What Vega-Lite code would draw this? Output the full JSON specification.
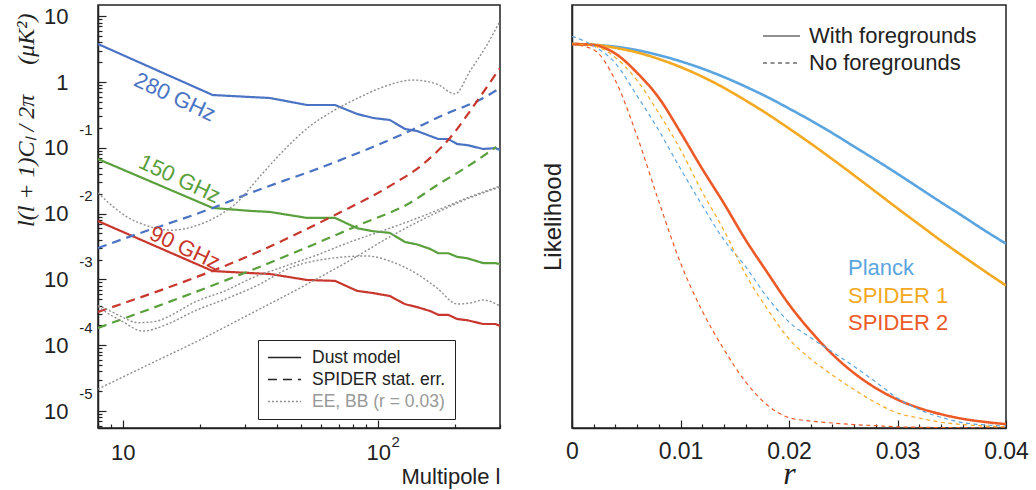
{
  "$schema": "https://vega.github.io/schema/vega-lite/v6.json",
  "padding": {"left": 13, "top": 4, "right": 0, "bottom": 0},
  "spacing": 72,
  "bounds": "flush",
  "resolve": {"scale": {"color": "independent", "strokeDash": "independent"}, "legend": {"color": "independent", "strokeDash": "independent"}},
  "config": {
    "font": "Liberation Sans",
    "view": {"stroke": "#222222", "strokeWidth": 1.5},
    "axis": {"domainColor": "#222222", "domainWidth": 1.5, "tickColor": "#222222", "tickWidth": 1.2, "labelColor": "#222222", "titleColor": "#222222", "labelFont": "Liberation Sans", "titleFont": "Liberation Sans", "grid": false, "titleFontWeight": "normal"},
    "legend": {"labelFont": "Liberation Sans", "labelColor": "#222222", "labelLimit": 400}
  },
  "hconcat": [
    {
      "width": 402,
      "height": 423,
      "resolve": {"axis": {"x": "independent", "y": "independent"}},
      "layer": [
        {
          "data": {"values": [
            {"x": 8, "y": 3.78, "c": "d280", "b": "280", "s": "Dust model"},
            {"x": 22.5, "y": 0.634, "c": "d280", "b": "280", "s": "Dust model"},
            {"x": 31.5, "y": 0.592, "c": "d280", "b": "280", "s": "Dust model"},
            {"x": 37.7, "y": 0.571, "c": "d280", "b": "280", "s": "Dust model"},
            {"x": 52.7, "y": 0.447, "c": "d280", "b": "280", "s": "Dust model"},
            {"x": 67.8, "y": 0.447, "c": "d280", "b": "280", "s": "Dust model"},
            {"x": 82.7, "y": 0.327, "c": "d280", "b": "280", "s": "Dust model"},
            {"x": 95.5, "y": 0.284, "c": "d280", "b": "280", "s": "Dust model"},
            {"x": 111, "y": 0.265, "c": "d280", "b": "280", "s": "Dust model"},
            {"x": 127.5, "y": 0.193, "c": "d280", "b": "280", "s": "Dust model"},
            {"x": 142, "y": 0.18, "c": "d280", "b": "280", "s": "Dust model"},
            {"x": 160, "y": 0.151, "c": "d280", "b": "280", "s": "Dust model"},
            {"x": 172, "y": 0.136, "c": "d280", "b": "280", "s": "Dust model"},
            {"x": 188, "y": 0.136, "c": "d280", "b": "280", "s": "Dust model"},
            {"x": 204, "y": 0.114, "c": "d280", "b": "280", "s": "Dust model"},
            {"x": 223, "y": 0.11, "c": "d280", "b": "280", "s": "Dust model"},
            {"x": 258, "y": 0.096, "c": "d280", "b": "280", "s": "Dust model"},
            {"x": 288, "y": 0.099, "c": "d280", "b": "280", "s": "Dust model"},
            {"x": 300, "y": 0.0926, "c": "d280", "b": "280", "s": "Dust model"},
            {"x": 8, "y": 0.0676, "c": "d150", "b": "150", "s": "Dust model"},
            {"x": 22.5, "y": 0.0122, "c": "d150", "b": "150", "s": "Dust model"},
            {"x": 31.5, "y": 0.011, "c": "d150", "b": "150", "s": "Dust model"},
            {"x": 37.7, "y": 0.0106, "c": "d150", "b": "150", "s": "Dust model"},
            {"x": 52.7, "y": 0.0086, "c": "d150", "b": "150", "s": "Dust model"},
            {"x": 67.8, "y": 0.0086, "c": "d150", "b": "150", "s": "Dust model"},
            {"x": 82.7, "y": 0.006, "c": "d150", "b": "150", "s": "Dust model"},
            {"x": 95.5, "y": 0.0054, "c": "d150", "b": "150", "s": "Dust model"},
            {"x": 111, "y": 0.0051, "c": "d150", "b": "150", "s": "Dust model"},
            {"x": 127.5, "y": 0.0037, "c": "d150", "b": "150", "s": "Dust model"},
            {"x": 142, "y": 0.0034, "c": "d150", "b": "150", "s": "Dust model"},
            {"x": 160, "y": 0.0029, "c": "d150", "b": "150", "s": "Dust model"},
            {"x": 172, "y": 0.0025, "c": "d150", "b": "150", "s": "Dust model"},
            {"x": 188, "y": 0.0025, "c": "d150", "b": "150", "s": "Dust model"},
            {"x": 204, "y": 0.0022, "c": "d150", "b": "150", "s": "Dust model"},
            {"x": 223, "y": 0.0021, "c": "d150", "b": "150", "s": "Dust model"},
            {"x": 258, "y": 0.00177, "c": "d150", "b": "150", "s": "Dust model"},
            {"x": 288, "y": 0.00177, "c": "d150", "b": "150", "s": "Dust model"},
            {"x": 300, "y": 0.00171, "c": "d150", "b": "150", "s": "Dust model"},
            {"x": 8, "y": 0.0077, "c": "d90", "b": "90", "s": "Dust model"},
            {"x": 22.5, "y": 0.00134, "c": "d90", "b": "90", "s": "Dust model"},
            {"x": 31.5, "y": 0.00125, "c": "d90", "b": "90", "s": "Dust model"},
            {"x": 37.7, "y": 0.00121, "c": "d90", "b": "90", "s": "Dust model"},
            {"x": 52.7, "y": 0.00098, "c": "d90", "b": "90", "s": "Dust model"},
            {"x": 67.8, "y": 0.00095, "c": "d90", "b": "90", "s": "Dust model"},
            {"x": 82.7, "y": 0.00067, "c": "d90", "b": "90", "s": "Dust model"},
            {"x": 95.5, "y": 0.00062, "c": "d90", "b": "90", "s": "Dust model"},
            {"x": 111, "y": 0.00056, "c": "d90", "b": "90", "s": "Dust model"},
            {"x": 127.5, "y": 0.00042, "c": "d90", "b": "90", "s": "Dust model"},
            {"x": 142, "y": 0.00038, "c": "d90", "b": "90", "s": "Dust model"},
            {"x": 160, "y": 0.00033, "c": "d90", "b": "90", "s": "Dust model"},
            {"x": 172, "y": 0.00029, "c": "d90", "b": "90", "s": "Dust model"},
            {"x": 188, "y": 0.00029, "c": "d90", "b": "90", "s": "Dust model"},
            {"x": 204, "y": 0.00025, "c": "d90", "b": "90", "s": "Dust model"},
            {"x": 223, "y": 0.00024, "c": "d90", "b": "90", "s": "Dust model"},
            {"x": 258, "y": 0.00021, "c": "d90", "b": "90", "s": "Dust model"},
            {"x": 288, "y": 0.00021, "c": "d90", "b": "90", "s": "Dust model"},
            {"x": 300, "y": 0.000196, "c": "d90", "b": "90", "s": "Dust model"}
          ]},
          "mark": {"type": "line", "interpolate": "linear", "clip": true},
          "encoding": {
            "x": {"field": "x", "type": "quantitative", "scale": {"type": "log", "domain": [8, 300], "nice": false},
              "axis": {"orient": "bottom", "values": [8, 9, 10, 20, 30, 40, 50, 60, 70, 80, 90, 100, 200, 300],
                "tickSize": {"condition": {"test": "datum.value == 10 || datum.value == 100", "value": -8}, "value": -4},
                "labelExpr": "datum.value == 10 || datum.value == 100 ? '10' : ''",
                "labelFontSize": 22, "labelPadding": 22, "labelOverlap": false, "labelFlush": false,
                "title": "Multipole  l", "titleFontSize": 22, "titleAnchor": "end", "titleY": 55, "titleBaseline": "alphabetic"}},
            "y": {"field": "y", "type": "quantitative", "scale": {"type": "log", "domain": [5.52e-6, 14.8], "nice": false},
              "axis": {"orient": "left",
                "values": [6e-6, 7e-6, 8e-6, 9e-6, 1e-5, 2e-5, 3e-5, 4e-5, 5e-5, 6e-5, 7e-5, 8e-5, 9e-5, 1e-4, 2e-4, 3e-4, 4e-4, 5e-4, 6e-4, 7e-4, 8e-4, 9e-4, 0.001, 0.002, 0.003, 0.004, 0.005, 0.006, 0.007, 0.008, 0.009, 0.01, 0.02, 0.03, 0.04, 0.05, 0.06, 0.07, 0.08, 0.09, 0.1, 0.2, 0.3, 0.4, 0.5, 0.6, 0.7, 0.8, 0.9, 1, 2, 3, 4, 5, 6, 7, 8, 9, 10],
                "tickSize": {"condition": {"test": "abs(log(datum.value)/LN10 - round(log(datum.value)/LN10)) < 0.001", "value": -8}, "value": -4},
                "labelExpr": "abs(log(datum.value)/LN10 - round(log(datum.value)/LN10)) < 0.001 ? (datum.value == 1 ? '1' : '10') : ''",
                "labelFontSize": 22, "labelPadding": 38, "labelOverlap": false, "labelFlush": false,
                "title": "l(l + 1)Cₗ / 2π\u2003 (μK²)", "titleFont": "Liberation Serif", "titleFontStyle": "italic", "titleFontSize": 24,
                "titleX": -60, "titleY": 8, "titleAlign": "right", "titleAngle": -90, "titleBaseline": "bottom"}},
            "color": {"field": "b", "type": "nominal", "scale": {"domain": ["280", "150", "90", "cmb"], "range": ["#4B73C4", "#5AA03C", "#C8372D", "#8E8E8E"]}, "legend": null},
            "strokeDash": {"field": "s", "type": "nominal", "scale": {"domain": ["Dust model", "SPIDER stat. err.", "EE, BB (r = 0.03)"], "range": [[1, 0], [9, 6], [2, 2]]},
              "legend": {"title": null, "orient": "none", "legendX": 160, "legendY": 335, "strokeColor": "#222222", "fillColor": "white", "padding": 9,
                "symbolType": "stroke", "symbolSize": 1100, "symbolStrokeColor": "#222222", "symbolStrokeWidth": 1.3,
                "labelFontSize": 17.5, "labelOffset": 10, "rowPadding": 4, "clipHeight": 17,
                "encode": {"labels": {"update": {"fill": {"signal": "datum.value == 'EE, BB (r = 0.03)' ? '#999999' : '#222222'"}}},
                  "symbols": {"update": {"stroke": {"signal": "datum.value == 'EE, BB (r = 0.03)' ? '#8E8E8E' : '#222222'"}, "strokeWidth": {"value": 1.3}}}}}},
            "strokeWidth": {"value": 2.2},
            "detail": {"field": "c"}
          }
        },
        {
          "data": {"values": [
            {"x": 8, "y": 0.003, "c": "e280", "b": "280", "s": "SPIDER stat. err."},
            {"x": 10, "y": 0.0041, "c": "e280", "b": "280", "s": "SPIDER stat. err."},
            {"x": 22.5, "y": 0.0122, "c": "e280", "b": "280", "s": "SPIDER stat. err."},
            {"x": 31.5, "y": 0.0205, "c": "e280", "b": "280", "s": "SPIDER stat. err."},
            {"x": 64.9, "y": 0.0567, "c": "e280", "b": "280", "s": "SPIDER stat. err."},
            {"x": 125, "y": 0.162, "c": "e280", "b": "280", "s": "SPIDER stat. err."},
            {"x": 180, "y": 0.315, "c": "e280", "b": "280", "s": "SPIDER stat. err."},
            {"x": 258, "y": 0.571, "c": "e280", "b": "280", "s": "SPIDER stat. err."},
            {"x": 300, "y": 0.81, "c": "e280", "b": "280", "s": "SPIDER stat. err."},
            {"x": 8, "y": 0.00032, "c": "e90", "b": "90", "s": "SPIDER stat. err."},
            {"x": 34.4, "y": 0.0027, "c": "e90", "b": "90", "s": "SPIDER stat. err."},
            {"x": 69, "y": 0.00986, "c": "e90", "b": "90", "s": "SPIDER stat. err."},
            {"x": 111, "y": 0.0262, "c": "e90", "b": "90", "s": "SPIDER stat. err."},
            {"x": 150, "y": 0.0567, "c": "e90", "b": "90", "s": "SPIDER stat. err."},
            {"x": 191, "y": 0.141, "c": "e90", "b": "90", "s": "SPIDER stat. err."},
            {"x": 244, "y": 0.514, "c": "e90", "b": "90", "s": "SPIDER stat. err."},
            {"x": 300, "y": 1.63, "c": "e90", "b": "90", "s": "SPIDER stat. err."},
            {"x": 8, "y": 0.000183, "c": "e150", "b": "150", "s": "SPIDER stat. err."},
            {"x": 33.5, "y": 0.00149, "c": "e150", "b": "150", "s": "SPIDER stat. err."},
            {"x": 84.9, "y": 0.0068, "c": "e150", "b": "150", "s": "SPIDER stat. err."},
            {"x": 133, "y": 0.0145, "c": "e150", "b": "150", "s": "SPIDER stat. err."},
            {"x": 170, "y": 0.027, "c": "e150", "b": "150", "s": "SPIDER stat. err."},
            {"x": 229, "y": 0.055, "c": "e150", "b": "150", "s": "SPIDER stat. err."},
            {"x": 290, "y": 0.103, "c": "e150", "b": "150", "s": "SPIDER stat. err."},
            {"x": 8, "y": 0.0206, "c": "EE", "b": "cmb", "s": "EE, BB (r = 0.03)"},
            {"x": 10.5, "y": 0.0087, "c": "EE", "b": "cmb", "s": "EE, BB (r = 0.03)"},
            {"x": 12.5, "y": 0.0065, "c": "EE", "b": "cmb", "s": "EE, BB (r = 0.03)"},
            {"x": 15.5, "y": 0.0056, "c": "EE", "b": "cmb", "s": "EE, BB (r = 0.03)"},
            {"x": 18.5, "y": 0.0062, "c": "EE", "b": "cmb", "s": "EE, BB (r = 0.03)"},
            {"x": 22.3, "y": 0.0082, "c": "EE", "b": "cmb", "s": "EE, BB (r = 0.03)"},
            {"x": 27.5, "y": 0.0139, "c": "EE", "b": "cmb", "s": "EE, BB (r = 0.03)"},
            {"x": 35.1, "y": 0.04, "c": "EE", "b": "cmb", "s": "EE, BB (r = 0.03)"},
            {"x": 42.4, "y": 0.089, "c": "EE", "b": "cmb", "s": "EE, BB (r = 0.03)"},
            {"x": 54.1, "y": 0.214, "c": "EE", "b": "cmb", "s": "EE, BB (r = 0.03)"},
            {"x": 66.6, "y": 0.362, "c": "EE", "b": "cmb", "s": "EE, BB (r = 0.03)"},
            {"x": 84.9, "y": 0.59, "c": "EE", "b": "cmb", "s": "EE, BB (r = 0.03)"},
            {"x": 104.5, "y": 0.84, "c": "EE", "b": "cmb", "s": "EE, BB (r = 0.03)"},
            {"x": 137, "y": 1.07, "c": "EE", "b": "cmb", "s": "EE, BB (r = 0.03)"},
            {"x": 170, "y": 0.93, "c": "EE", "b": "cmb", "s": "EE, BB (r = 0.03)"},
            {"x": 200, "y": 0.66, "c": "EE", "b": "cmb", "s": "EE, BB (r = 0.03)"},
            {"x": 229, "y": 1.47, "c": "EE", "b": "cmb", "s": "EE, BB (r = 0.03)"},
            {"x": 268, "y": 3.78, "c": "EE", "b": "cmb", "s": "EE, BB (r = 0.03)"},
            {"x": 300, "y": 8.45, "c": "EE", "b": "cmb", "s": "EE, BB (r = 0.03)"},
            {"x": 8, "y": 0.000394, "c": "BBt", "b": "cmb", "s": "EE, BB (r = 0.03)"},
            {"x": 8.27, "y": 0.00038, "c": "BBt", "b": "cmb", "s": "EE, BB (r = 0.03)"},
            {"x": 9.91, "y": 0.00027, "c": "BBt", "b": "cmb", "s": "EE, BB (r = 0.03)"},
            {"x": 11.45, "y": 0.00022, "c": "BBt", "b": "cmb", "s": "EE, BB (r = 0.03)"},
            {"x": 13.5, "y": 0.00023, "c": "BBt", "b": "cmb", "s": "EE, BB (r = 0.03)"},
            {"x": 15, "y": 0.00027, "c": "BBt", "b": "cmb", "s": "EE, BB (r = 0.03)"},
            {"x": 19.1, "y": 0.00045, "c": "BBt", "b": "cmb", "s": "EE, BB (r = 0.03)"},
            {"x": 25.8, "y": 0.0007, "c": "BBt", "b": "cmb", "s": "EE, BB (r = 0.03)"},
            {"x": 31.5, "y": 0.00102, "c": "BBt", "b": "cmb", "s": "EE, BB (r = 0.03)"},
            {"x": 42.4, "y": 0.00155, "c": "BBt", "b": "cmb", "s": "EE, BB (r = 0.03)"},
            {"x": 57.6, "y": 0.00235, "c": "BBt", "b": "cmb", "s": "EE, BB (r = 0.03)"},
            {"x": 77.6, "y": 0.0037, "c": "BBt", "b": "cmb", "s": "EE, BB (r = 0.03)"},
            {"x": 114, "y": 0.0062, "c": "BBt", "b": "cmb", "s": "EE, BB (r = 0.03)"},
            {"x": 170, "y": 0.0112, "c": "BBt", "b": "cmb", "s": "EE, BB (r = 0.03)"},
            {"x": 223, "y": 0.0173, "c": "BBt", "b": "cmb", "s": "EE, BB (r = 0.03)"},
            {"x": 300, "y": 0.0262, "c": "BBt", "b": "cmb", "s": "EE, BB (r = 0.03)"},
            {"x": 8, "y": 0.000394, "c": "BBp", "b": "cmb", "s": "EE, BB (r = 0.03)"},
            {"x": 8.27, "y": 0.000355, "c": "BBp", "b": "cmb", "s": "EE, BB (r = 0.03)"},
            {"x": 9.91, "y": 0.000233, "c": "BBp", "b": "cmb", "s": "EE, BB (r = 0.03)"},
            {"x": 11.98, "y": 0.000164, "c": "BBp", "b": "cmb", "s": "EE, BB (r = 0.03)"},
            {"x": 15, "y": 0.00021, "c": "BBp", "b": "cmb", "s": "EE, BB (r = 0.03)"},
            {"x": 19.1, "y": 0.000331, "c": "BBp", "b": "cmb", "s": "EE, BB (r = 0.03)"},
            {"x": 25.8, "y": 0.000521, "c": "BBp", "b": "cmb", "s": "EE, BB (r = 0.03)"},
            {"x": 35.1, "y": 0.00088, "c": "BBp", "b": "cmb", "s": "EE, BB (r = 0.03)"},
            {"x": 42.4, "y": 0.00134, "c": "BBp", "b": "cmb", "s": "EE, BB (r = 0.03)"},
            {"x": 66.6, "y": 0.00211, "c": "BBp", "b": "cmb", "s": "EE, BB (r = 0.03)"},
            {"x": 90.4, "y": 0.00227, "c": "BBp", "b": "cmb", "s": "EE, BB (r = 0.03)"},
            {"x": 111, "y": 0.0019, "c": "BBp", "b": "cmb", "s": "EE, BB (r = 0.03)"},
            {"x": 142, "y": 0.00121, "c": "BBp", "b": "cmb", "s": "EE, BB (r = 0.03)"},
            {"x": 170, "y": 0.00074, "c": "BBp", "b": "cmb", "s": "EE, BB (r = 0.03)"},
            {"x": 204, "y": 0.000423, "c": "BBp", "b": "cmb", "s": "EE, BB (r = 0.03)"},
            {"x": 229, "y": 0.000438, "c": "BBp", "b": "cmb", "s": "EE, BB (r = 0.03)"},
            {"x": 258, "y": 0.000486, "c": "BBp", "b": "cmb", "s": "EE, BB (r = 0.03)"},
            {"x": 300, "y": 0.000394, "c": "BBp", "b": "cmb", "s": "EE, BB (r = 0.03)"},
            {"x": 8, "y": 2.16e-5, "c": "BBl", "b": "cmb", "s": "EE, BB (r = 0.03)"},
            {"x": 12.76, "y": 5.18e-5, "c": "BBl", "b": "cmb", "s": "EE, BB (r = 0.03)"},
            {"x": 20, "y": 0.00012, "c": "BBl", "b": "cmb", "s": "EE, BB (r = 0.03)"},
            {"x": 31.5, "y": 0.000298, "c": "BBl", "b": "cmb", "s": "EE, BB (r = 0.03)"},
            {"x": 49.4, "y": 0.00074, "c": "BBl", "b": "cmb", "s": "EE, BB (r = 0.03)"},
            {"x": 77.6, "y": 0.00195, "c": "BBl", "b": "cmb", "s": "EE, BB (r = 0.03)"},
            {"x": 114, "y": 0.0047, "c": "BBl", "b": "cmb", "s": "EE, BB (r = 0.03)"},
            {"x": 170, "y": 0.0104, "c": "BBl", "b": "cmb", "s": "EE, BB (r = 0.03)"},
            {"x": 223, "y": 0.0167, "c": "BBl", "b": "cmb", "s": "EE, BB (r = 0.03)"},
            {"x": 300, "y": 0.0254, "c": "BBl", "b": "cmb", "s": "EE, BB (r = 0.03)"}
          ]},
          "mark": {"type": "line", "interpolate": "monotone", "clip": true},
          "encoding": {
            "x": {"field": "x", "type": "quantitative", "scale": {"type": "log", "domain": [8, 300], "nice": false}, "axis": null},
            "y": {"field": "y", "type": "quantitative", "scale": {"type": "log", "domain": [5.52e-6, 14.8], "nice": false}, "axis": null},
            "color": {"field": "b", "type": "nominal", "scale": {"domain": ["280", "150", "90", "cmb"], "range": ["#4B73C4", "#5AA03C", "#C8372D", "#8E8E8E"]}, "legend": null},
            "strokeDash": {"field": "s", "type": "nominal", "scale": {"domain": ["Dust model", "SPIDER stat. err.", "EE, BB (r = 0.03)"], "range": [[1, 0], [9, 6], [2, 2]]},
              "legend": {"title": null, "orient": "none", "legendX": 160, "legendY": 335, "strokeColor": "#222222", "fillColor": "white", "padding": 9,
                "symbolType": "stroke", "symbolSize": 1100, "symbolStrokeColor": "#222222", "symbolStrokeWidth": 1.3,
                "labelFontSize": 17.5, "labelOffset": 10, "rowPadding": 4, "clipHeight": 17,
                "encode": {"labels": {"update": {"fill": {"signal": "datum.value == 'EE, BB (r = 0.03)' ? '#999999' : '#222222'"}}},
                  "symbols": {"update": {"stroke": {"signal": "datum.value == 'EE, BB (r = 0.03)' ? '#8E8E8E' : '#222222'"}, "strokeWidth": {"value": 1.3}}}}}},
            "strokeWidth": {"condition": {"test": "datum.s == 'SPIDER stat. err.'", "value": 2.2}, "value": 1.4},
            "detail": {"field": "c"}
          }
        },
        {
          "data": {"values": [
            {"x": 16.0, "y": 0.59, "t": "280 GHz", "b": "280"},
            {"x": 16.7, "y": 0.0336, "t": "150 GHz", "b": "150"},
            {"x": 17.5, "y": 0.003, "t": "90 GHz", "b": "90"}
          ]},
          "mark": {"type": "text", "angle": 25, "fontSize": 22, "align": "center", "baseline": "middle"},
          "encoding": {
            "x": {"field": "x", "type": "quantitative", "scale": {"type": "log", "domain": [8, 300], "nice": false},
              "axis": {"orient": "bottom", "values": [100], "labelExpr": "'2'", "ticks": false, "domain": false, "labelFontSize": 15, "labelPadding": 6, "labelOffset": 17, "title": null, "labelFlush": false}},
            "y": {"field": "y", "type": "quantitative", "scale": {"type": "log", "domain": [5.52e-6, 14.8], "nice": false},
              "axis": {"orient": "left", "values": [1e-5, 1e-4, 0.001, 0.01, 0.1], "labelExpr": "'-' + format(-log(datum.value)/LN10, '.0f')", "ticks": false, "domain": false, "labelFontSize": 15, "labelPadding": 6, "labelOffset": -18, "title": null, "labelFlush": false, "labelOverlap": false}},
            "text": {"field": "t"},
            "color": {"field": "b", "type": "nominal", "scale": {"domain": ["280", "150", "90", "cmb"], "range": ["#4B73C4", "#5AA03C", "#C8372D", "#8E8E8E"]}, "legend": null}
          }
        }
      ]
    },
    {
      "width": 434,
      "height": 423,
      "data": {"values": [
        {"r": 0, "L": 1.0, "m": "Planck", "f": "With foregrounds"},
        {"r": 0.002, "L": 0.998, "m": "Planck", "f": "With foregrounds"},
        {"r": 0.004, "L": 0.993, "m": "Planck", "f": "With foregrounds"},
        {"r": 0.006, "L": 0.984, "m": "Planck", "f": "With foregrounds"},
        {"r": 0.008, "L": 0.971, "m": "Planck", "f": "With foregrounds"},
        {"r": 0.01, "L": 0.955, "m": "Planck", "f": "With foregrounds"},
        {"r": 0.012, "L": 0.936, "m": "Planck", "f": "With foregrounds"},
        {"r": 0.014, "L": 0.914, "m": "Planck", "f": "With foregrounds"},
        {"r": 0.016, "L": 0.889, "m": "Planck", "f": "With foregrounds"},
        {"r": 0.018, "L": 0.862, "m": "Planck", "f": "With foregrounds"},
        {"r": 0.02, "L": 0.832, "m": "Planck", "f": "With foregrounds"},
        {"r": 0.022, "L": 0.801, "m": "Planck", "f": "With foregrounds"},
        {"r": 0.024, "L": 0.768, "m": "Planck", "f": "With foregrounds"},
        {"r": 0.026, "L": 0.733, "m": "Planck", "f": "With foregrounds"},
        {"r": 0.028, "L": 0.698, "m": "Planck", "f": "With foregrounds"},
        {"r": 0.03, "L": 0.662, "m": "Planck", "f": "With foregrounds"},
        {"r": 0.032, "L": 0.625, "m": "Planck", "f": "With foregrounds"},
        {"r": 0.034, "L": 0.588, "m": "Planck", "f": "With foregrounds"},
        {"r": 0.036, "L": 0.552, "m": "Planck", "f": "With foregrounds"},
        {"r": 0.038, "L": 0.515, "m": "Planck", "f": "With foregrounds"},
        {"r": 0.04, "L": 0.48, "m": "Planck", "f": "With foregrounds"},
        {"r": 0, "L": 1.0, "m": "SPIDER 1", "f": "With foregrounds"},
        {"r": 0.002, "L": 0.998, "m": "SPIDER 1", "f": "With foregrounds"},
        {"r": 0.004, "L": 0.99, "m": "SPIDER 1", "f": "With foregrounds"},
        {"r": 0.006, "L": 0.978, "m": "SPIDER 1", "f": "With foregrounds"},
        {"r": 0.008, "L": 0.961, "m": "SPIDER 1", "f": "With foregrounds"},
        {"r": 0.01, "L": 0.94, "m": "SPIDER 1", "f": "With foregrounds"},
        {"r": 0.012, "L": 0.915, "m": "SPIDER 1", "f": "With foregrounds"},
        {"r": 0.014, "L": 0.886, "m": "SPIDER 1", "f": "With foregrounds"},
        {"r": 0.016, "L": 0.853, "m": "SPIDER 1", "f": "With foregrounds"},
        {"r": 0.018, "L": 0.818, "m": "SPIDER 1", "f": "With foregrounds"},
        {"r": 0.02, "L": 0.78, "m": "SPIDER 1", "f": "With foregrounds"},
        {"r": 0.022, "L": 0.741, "m": "SPIDER 1", "f": "With foregrounds"},
        {"r": 0.024, "L": 0.7, "m": "SPIDER 1", "f": "With foregrounds"},
        {"r": 0.026, "L": 0.658, "m": "SPIDER 1", "f": "With foregrounds"},
        {"r": 0.028, "L": 0.615, "m": "SPIDER 1", "f": "With foregrounds"},
        {"r": 0.03, "L": 0.572, "m": "SPIDER 1", "f": "With foregrounds"},
        {"r": 0.032, "L": 0.53, "m": "SPIDER 1", "f": "With foregrounds"},
        {"r": 0.034, "L": 0.488, "m": "SPIDER 1", "f": "With foregrounds"},
        {"r": 0.036, "L": 0.448, "m": "SPIDER 1", "f": "With foregrounds"},
        {"r": 0.038, "L": 0.409, "m": "SPIDER 1", "f": "With foregrounds"},
        {"r": 0.04, "L": 0.371, "m": "SPIDER 1", "f": "With foregrounds"},
        {"r": 0, "L": 1.0, "m": "SPIDER 2", "f": "With foregrounds"},
        {"r": 0.002, "L": 0.997, "m": "SPIDER 2", "f": "With foregrounds"},
        {"r": 0.004, "L": 0.975, "m": "SPIDER 2", "f": "With foregrounds"},
        {"r": 0.006, "L": 0.925, "m": "SPIDER 2", "f": "With foregrounds"},
        {"r": 0.008, "L": 0.86, "m": "SPIDER 2", "f": "With foregrounds"},
        {"r": 0.01, "L": 0.77, "m": "SPIDER 2", "f": "With foregrounds"},
        {"r": 0.012, "L": 0.675, "m": "SPIDER 2", "f": "With foregrounds"},
        {"r": 0.014, "L": 0.585, "m": "SPIDER 2", "f": "With foregrounds"},
        {"r": 0.016, "L": 0.49, "m": "SPIDER 2", "f": "With foregrounds"},
        {"r": 0.018, "L": 0.405, "m": "SPIDER 2", "f": "With foregrounds"},
        {"r": 0.02, "L": 0.322, "m": "SPIDER 2", "f": "With foregrounds"},
        {"r": 0.022, "L": 0.252, "m": "SPIDER 2", "f": "With foregrounds"},
        {"r": 0.024, "L": 0.192, "m": "SPIDER 2", "f": "With foregrounds"},
        {"r": 0.026, "L": 0.143, "m": "SPIDER 2", "f": "With foregrounds"},
        {"r": 0.028, "L": 0.104, "m": "SPIDER 2", "f": "With foregrounds"},
        {"r": 0.03, "L": 0.074, "m": "SPIDER 2", "f": "With foregrounds"},
        {"r": 0.032, "L": 0.052, "m": "SPIDER 2", "f": "With foregrounds"},
        {"r": 0.034, "L": 0.036, "m": "SPIDER 2", "f": "With foregrounds"},
        {"r": 0.036, "L": 0.024, "m": "SPIDER 2", "f": "With foregrounds"},
        {"r": 0.038, "L": 0.016, "m": "SPIDER 2", "f": "With foregrounds"},
        {"r": 0.04, "L": 0.01, "m": "SPIDER 2", "f": "With foregrounds"},
        {"r": 0, "L": 1.02, "m": "Planck", "f": "No foregrounds"},
        {"r": 0.002, "L": 0.995, "m": "Planck", "f": "No foregrounds"},
        {"r": 0.004, "L": 0.95, "m": "Planck", "f": "No foregrounds"},
        {"r": 0.006, "L": 0.865, "m": "Planck", "f": "No foregrounds"},
        {"r": 0.008, "L": 0.775, "m": "Planck", "f": "No foregrounds"},
        {"r": 0.01, "L": 0.675, "m": "Planck", "f": "No foregrounds"},
        {"r": 0.012, "L": 0.58, "m": "Planck", "f": "No foregrounds"},
        {"r": 0.014, "L": 0.49, "m": "Planck", "f": "No foregrounds"},
        {"r": 0.016, "L": 0.42, "m": "Planck", "f": "No foregrounds"},
        {"r": 0.018, "L": 0.34, "m": "Planck", "f": "No foregrounds"},
        {"r": 0.02, "L": 0.276, "m": "Planck", "f": "No foregrounds"},
        {"r": 0.022, "L": 0.235, "m": "Planck", "f": "No foregrounds"},
        {"r": 0.024, "L": 0.198, "m": "Planck", "f": "No foregrounds"},
        {"r": 0.026, "L": 0.16, "m": "Planck", "f": "No foregrounds"},
        {"r": 0.028, "L": 0.12, "m": "Planck", "f": "No foregrounds"},
        {"r": 0.03, "L": 0.078, "m": "Planck", "f": "No foregrounds"},
        {"r": 0.032, "L": 0.048, "m": "Planck", "f": "No foregrounds"},
        {"r": 0.034, "L": 0.028, "m": "Planck", "f": "No foregrounds"},
        {"r": 0.036, "L": 0.014, "m": "Planck", "f": "No foregrounds"},
        {"r": 0.038, "L": 0.008, "m": "Planck", "f": "No foregrounds"},
        {"r": 0.04, "L": 0.005, "m": "Planck", "f": "No foregrounds"},
        {"r": 0, "L": 1.0, "m": "SPIDER 1", "f": "No foregrounds"},
        {"r": 0.002, "L": 0.995, "m": "SPIDER 1", "f": "No foregrounds"},
        {"r": 0.004, "L": 0.965, "m": "SPIDER 1", "f": "No foregrounds"},
        {"r": 0.006, "L": 0.905, "m": "SPIDER 1", "f": "No foregrounds"},
        {"r": 0.008, "L": 0.82, "m": "SPIDER 1", "f": "No foregrounds"},
        {"r": 0.01, "L": 0.725, "m": "SPIDER 1", "f": "No foregrounds"},
        {"r": 0.012, "L": 0.615, "m": "SPIDER 1", "f": "No foregrounds"},
        {"r": 0.014, "L": 0.515, "m": "SPIDER 1", "f": "No foregrounds"},
        {"r": 0.016, "L": 0.4, "m": "SPIDER 1", "f": "No foregrounds"},
        {"r": 0.018, "L": 0.31, "m": "SPIDER 1", "f": "No foregrounds"},
        {"r": 0.02, "L": 0.232, "m": "SPIDER 1", "f": "No foregrounds"},
        {"r": 0.022, "L": 0.18, "m": "SPIDER 1", "f": "No foregrounds"},
        {"r": 0.024, "L": 0.138, "m": "SPIDER 1", "f": "No foregrounds"},
        {"r": 0.026, "L": 0.1, "m": "SPIDER 1", "f": "No foregrounds"},
        {"r": 0.028, "L": 0.066, "m": "SPIDER 1", "f": "No foregrounds"},
        {"r": 0.03, "L": 0.039, "m": "SPIDER 1", "f": "No foregrounds"},
        {"r": 0.032, "L": 0.026, "m": "SPIDER 1", "f": "No foregrounds"},
        {"r": 0.034, "L": 0.015, "m": "SPIDER 1", "f": "No foregrounds"},
        {"r": 0.036, "L": 0.009, "m": "SPIDER 1", "f": "No foregrounds"},
        {"r": 0.038, "L": 0.005, "m": "SPIDER 1", "f": "No foregrounds"},
        {"r": 0.04, "L": 0.003, "m": "SPIDER 1", "f": "No foregrounds"},
        {"r": 0, "L": 1.0, "m": "SPIDER 2", "f": "No foregrounds"},
        {"r": 0.002, "L": 0.985, "m": "SPIDER 2", "f": "No foregrounds"},
        {"r": 0.004, "L": 0.905, "m": "SPIDER 2", "f": "No foregrounds"},
        {"r": 0.006, "L": 0.76, "m": "SPIDER 2", "f": "No foregrounds"},
        {"r": 0.008, "L": 0.59, "m": "SPIDER 2", "f": "No foregrounds"},
        {"r": 0.01, "L": 0.43, "m": "SPIDER 2", "f": "No foregrounds"},
        {"r": 0.012, "L": 0.305, "m": "SPIDER 2", "f": "No foregrounds"},
        {"r": 0.014, "L": 0.205, "m": "SPIDER 2", "f": "No foregrounds"},
        {"r": 0.016, "L": 0.12, "m": "SPIDER 2", "f": "No foregrounds"},
        {"r": 0.018, "L": 0.06, "m": "SPIDER 2", "f": "No foregrounds"},
        {"r": 0.02, "L": 0.027, "m": "SPIDER 2", "f": "No foregrounds"},
        {"r": 0.022, "L": 0.018, "m": "SPIDER 2", "f": "No foregrounds"},
        {"r": 0.024, "L": 0.013, "m": "SPIDER 2", "f": "No foregrounds"},
        {"r": 0.026, "L": 0.009, "m": "SPIDER 2", "f": "No foregrounds"},
        {"r": 0.028, "L": 0.006, "m": "SPIDER 2", "f": "No foregrounds"},
        {"r": 0.03, "L": 0.003, "m": "SPIDER 2", "f": "No foregrounds"},
        {"r": 0.032, "L": 0.002, "m": "SPIDER 2", "f": "No foregrounds"},
        {"r": 0.034, "L": 0.001, "m": "SPIDER 2", "f": "No foregrounds"},
        {"r": 0.036, "L": 0.0005, "m": "SPIDER 2", "f": "No foregrounds"},
        {"r": 0.038, "L": 0.0002, "m": "SPIDER 2", "f": "No foregrounds"},
        {"r": 0.04, "L": 0.0, "m": "SPIDER 2", "f": "No foregrounds"}
      ]},
      "mark": {"type": "line", "interpolate": "monotone", "clip": true},
      "encoding": {
        "x": {"field": "r", "type": "quantitative", "scale": {"domain": [0, 0.04], "nice": false, "zero": false},
          "axis": {"values": [0, 0.002, 0.004, 0.006, 0.008, 0.01, 0.012, 0.014, 0.016, 0.018, 0.02, 0.022, 0.024, 0.026, 0.028, 0.03, 0.032, 0.034, 0.036, 0.038, 0.04],
            "tickSize": {"condition": {"test": "abs(datum.value*100 - round(datum.value*100)) < 0.000001", "value": -8}, "value": -4},
            "labelExpr": "abs(datum.value*100 - round(datum.value*100)) < 0.000001 ? (datum.value == 0 ? '0' : format(datum.value, '.2f')) : ''",
            "labelFontSize": 23, "labelPadding": 20, "labelOverlap": false, "labelFlush": false,
            "title": "r", "titleFont": "Liberation Serif", "titleFontStyle": "italic", "titleFontSize": 32, "titleY": 55, "titleBaseline": "alphabetic"}},
        "y": {"field": "L", "type": "quantitative", "scale": {"domain": [0, 1.1016], "nice": false},
          "axis": {"title": "Likelihood", "ticks": false, "labels": false, "titleFontSize": 24, "titlePadding": 7}},
        "color": {"field": "m", "type": "nominal", "scale": {"domain": ["Planck", "SPIDER 1", "SPIDER 2"], "range": ["#5AA5E0", "#F4A922", "#EC5A27"]},
          "legend": {"title": null, "orient": "none", "legendX": 254, "legendY": 252, "symbolType": "circle", "symbolSize": 0, "symbolOpacity": 0, "symbolStrokeWidth": 0,
            "labelOffset": 0, "labelFontSize": 22, "rowPadding": 5.5, "padding": 0,
            "encode": {"labels": {"update": {"fill": {"signal": "datum.value == 'Planck' ? '#5AA5E0' : datum.value == 'SPIDER 1' ? '#F4A922' : '#EC5A27'"}}}}}},
        "strokeDash": {"field": "f", "type": "nominal", "scale": {"domain": ["With foregrounds", "No foregrounds"], "range": [[1, 0], [4, 3.5]]},
          "legend": {"title": null, "orient": "none", "legendX": 190, "legendY": 20, "symbolType": "stroke", "symbolSize": 1369, "symbolStrokeColor": "#222222", "symbolStrokeWidth": 1.2,
            "labelFontSize": 22, "labelOffset": 8, "rowPadding": 5, "clipHeight": 22, "padding": 0}},
        "strokeWidth": {"condition": {"test": "datum.f == 'With foregrounds'", "value": 2.6}, "value": 1.2}
      }
    }
  ]
}
